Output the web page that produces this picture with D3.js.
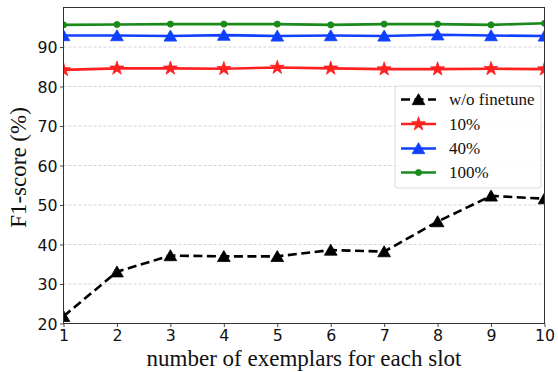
<!DOCTYPE html>
<html><head><meta charset="utf-8">
<script src="https://cdn.jsdelivr.net/npm/d3@7"></script>
<style>html,body{margin:0;padding:0;background:#fff;}svg{display:block;}</style>
</head><body>
<svg id="c" width="558" height="372"></svg>
<script>
const xValues = [1,2,3,4,5,6,7,8,9,10];
const woFinetune = [21.8,33.1,37.2,37.0,37.0,38.6,38.2,45.8,52.3,51.6];
const p10 = [84.2,84.6,84.6,84.5,84.8,84.6,84.4,84.4,84.5,84.4];
const p40 = [92.9,92.9,92.8,93.0,92.8,92.9,92.8,93.1,92.9,92.8];
const p100 = [95.6,95.7,95.8,95.8,95.8,95.6,95.8,95.8,95.6,96.0];
const yTicks = [20,30,40,50,60,70,80,90];
const seriesNames = ["w/o finetune","10%","40%","100%"];
const xLabel = "number of exemplars for each slot";
const yLabel = "F1-score (%)";

const series = [
  {name:seriesNames[0], values:woFinetune, color:"#000000", marker:"triangle", dash:"9,4.5"},
  {name:seriesNames[1], values:p10, color:"#ff2020", marker:"star", dash:null},
  {name:seriesNames[2], values:p40, color:"#1040ff", marker:"triangle", dash:null},
  {name:seriesNames[3], values:p100, color:"#1a8a1a", marker:"circle", dash:null}
];

const svg = d3.select("#c");
const L=63.5, R=544.5, T=7.5, B=323.5;
const x = d3.scaleLinear().domain([1,10]).range([L,R]);
const y = d3.scaleLinear().domain([20,100]).range([B,T]);

// grid
svg.append("g").selectAll("line").data(yTicks.filter(d=>d>20)).join("line")
  .attr("x1",L).attr("x2",R).attr("y1",d=>y(d)).attr("y2",d=>y(d))
  .attr("stroke","#c8c8c8").attr("stroke-width",0.8).attr("stroke-dasharray","3,2");

const clip = svg.append("defs").append("clipPath").attr("id","clp");
clip.append("rect").attr("x",L).attr("y",T).attr("width",R-L).attr("height",B-T);

const line = d3.line().x((d,i)=>x(xValues[i])).y(d=>y(d));
const sym = {
  triangle: d3.symbol().type(d3.symbolTriangle).size(70),
  star: d3.symbol().type(d3.symbolStar).size(60),
  circle: d3.symbol().type(d3.symbolCircle).size(30)
};
const plot = svg.append("g").attr("clip-path","url(#clp)");
series.forEach(s=>{
  plot.append("path").datum(s.values).attr("d",line).attr("fill","none")
    .attr("stroke",s.color).attr("stroke-width",2.6)
    .attr("stroke-dasharray",s.dash).attr("stroke-linejoin","round");
  plot.append("g").selectAll("path").data(s.values).join("path")
    .attr("d",sym[s.marker])
    .attr("transform",(d,i)=>`translate(${x(xValues[i])},${y(d)+(s.marker==="triangle"?1.5:0)})`)
    .attr("fill",s.color).attr("stroke",s.color).attr("stroke-width",0.8);
});

// axes
const xAxis = d3.axisBottom(x).tickValues(xValues).tickSize(3.5).tickPadding(2).tickFormat(d3.format("d"));
const yAxis = d3.axisLeft(y).tickValues(yTicks).tickSize(3.5).tickPadding(2.5);
const gx = svg.append("g").attr("transform",`translate(0,${B})`).call(xAxis);
const gy = svg.append("g").attr("transform",`translate(${L},0)`).call(yAxis);
[gx,gy].forEach(g=>{
  g.select(".domain").remove();
  g.selectAll("line").attr("stroke","#333").attr("stroke-width",0.9);
  g.selectAll("text").attr("font-family","DejaVu Sans").attr("font-size","15.8px").attr("fill","#111");
});
gy.selectAll("text").attr("dy","0.36em");
gx.selectAll("text").attr("dy","0.78em");
// frame
svg.append("rect").attr("x",L).attr("y",T).attr("width",R-L).attr("height",B-T)
  .attr("fill","none").attr("stroke","#333").attr("stroke-width",1);

// labels
svg.append("text").attr("x",(L+R)/2).attr("y",366).attr("text-anchor","middle")
  .attr("font-family","Liberation Serif").attr("font-size","23px").attr("fill","#111").text(xLabel);
svg.append("text").attr("transform",`translate(26,${(T+B)/2+2}) rotate(-90)`).attr("text-anchor","middle")
  .attr("font-family","Liberation Serif").attr("font-size","23px").attr("fill","#111").text(yLabel);

// legend
const lg = svg.append("g");
lg.append("rect").attr("x",395).attr("y",86).attr("width",146).attr("height",102).attr("rx",3)
  .attr("fill","#fff").attr("fill-opacity",0.85).attr("stroke","#d8d8d8").attr("stroke-width",0.9);
const rowY = [99.5,124,148.5,172.5];
series.forEach((s,i)=>{
  const g = lg.append("g").attr("transform",`translate(0,${rowY[i]})`);
  g.append("line").attr("x1",401).attr("x2",436).attr("y1",0).attr("y2",0)
    .attr("stroke",s.color).attr("stroke-width",2.6).attr("stroke-dasharray",s.dash);
  g.append("path").attr("d",sym[s.marker]).attr("transform",`translate(418.5,${s.marker==="triangle"?1.5:0})`)
    .attr("fill",s.color).attr("stroke",s.color).attr("stroke-width",0.8);
  g.append("text").attr("x",449).attr("y",0).attr("dy","0.33em")
    .attr("font-family","Liberation Serif").attr("font-size","17px").attr("fill","#111").text(s.name);
});
</script>
</body></html>
